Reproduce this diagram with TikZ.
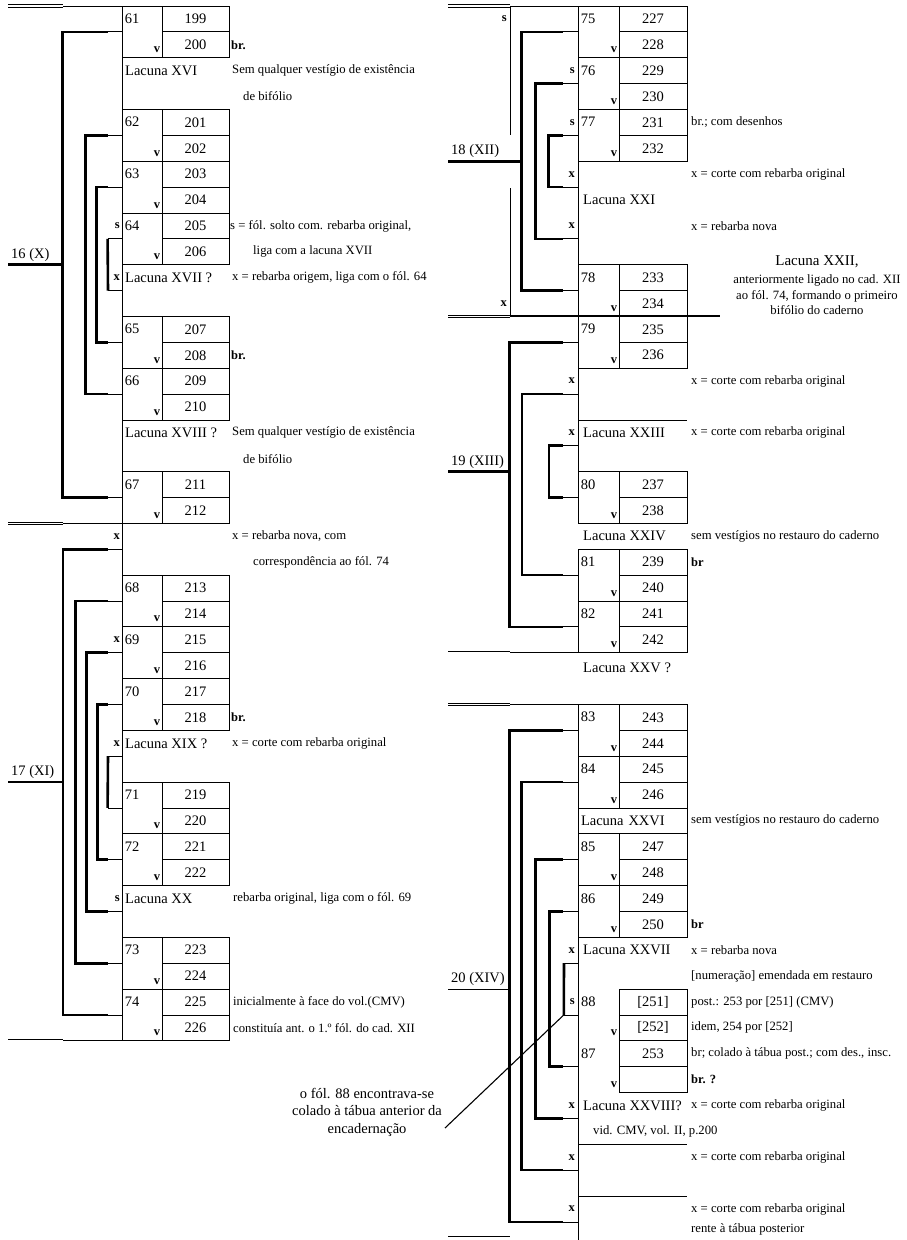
\documentclass[tikz,border=0pt]{standalone}
\usepackage{fontspec}
\setmainfont{Liberation Serif}
\begin{document}
\begin{tikzpicture}[
    x=1pt, y=-25.87pt,
    every node/.style={font=\fontsize{14.5}{17.5}\selectfont},
    cell/.style={draw, line width=0.8pt, minimum width=67pt, minimum height=25.87pt, inner sep=0pt},
    rcell/.style={cell, minimum width=68pt},
    folio/.style={anchor=north west, inner xsep=3pt, inner ysep=8pt},
    verso/.style={anchor=south east, inner xsep=2pt, inner ysep=5pt, font=\bfseries\fontsize{12.5}{14}\selectfont},
    bare/.style={minimum width=40pt, minimum height=51.74pt, inner sep=0pt,
      label={[folio]north west:#1}, label={[verso]south east:v}},
    leaf/.style={bare=#1, draw, line width=0.8pt},
    rleaf/.style={leaf=#1, minimum width=41pt},
    lacuna/.style={anchor=west, inner sep=2pt},
    sign/.style={anchor=east, inner sep=1pt, font=\bfseries\fontsize{12.5}{14}\selectfont},
    note/.style={anchor=west, inner sep=1pt, font=\fontsize{12.7}{15.5}\selectfont},
    brnote/.style={note, font=\bfseries\fontsize{12.5}{14}\selectfont},
    quirelabel/.style={anchor=south west, inner sep=3pt},
    tie/.style={line width=0.8pt},
    quire/.style={line width=2.6pt},
    dbl/.style={double, double distance=1.5pt, line width=0.8pt}
  ]
  \path[use as bounding box, fill=white] (0,-0.232) rectangle (907,47.70);

  % left column: quire 16 (X)
  \node[leaf=61] (L61) at (142,1) {};
  \node[cell] (p199) at (195.5,0.5) {199};
  \node[cell] (p200) at (195.5,1.5) {200};
  \node[brnote] (b200) at (230,1.5) {br.};
  \node[lacuna] (lac16) at (123,2.5) {Lacuna XVI};
  \node[note] (n16a) at (231,2.5) {Sem qualquer vestígio de existência};
  \node[note] (n16b) at (242,3.5) {de bifólio};
  \node[leaf=62] (L62) at (142,5) {};
  \node[cell] (p201) at (195.5,4.5) {201};
  \node[cell] (p202) at (195.5,5.5) {202};
  \node[leaf=63] (L63) at (142,7) {};
  \node[cell] (p203) at (195.5,6.5) {203};
  \node[cell] (p204) at (195.5,7.5) {204};
  \node[sign] (s64) at (121,8.5) {s};
  \node[leaf=64] (L64) at (142,9) {};
  \node[cell] (p205) at (195.5,8.5) {205};
  \node[cell] (p206) at (195.5,9.5) {206};
  \node[note] (n64a) at (229,8.5) {s = fól. solto com. rebarba original,};
  \node[note] (n64b) at (252,9.5) {liga com a lacuna XVII};
  \node[sign] (x17) at (121,10.5) {x};
  \node[lacuna] (lac17) at (123,10.5) {Lacuna XVII ?};
  \node[note] (n17) at (231,10.5) {x = rebarba origem, liga com o fól. 64};
  \coordinate (q16) at (122,11);
  \node[leaf=65] (L65) at (142,13) {};
  \node[cell] (p207) at (195.5,12.5) {207};
  \node[cell] (p208) at (195.5,13.5) {208};
  \node[brnote] (b208) at (230,13.5) {br.};
  \node[leaf=66] (L66) at (142,15) {};
  \node[cell] (p209) at (195.5,14.5) {209};
  \node[cell] (p210) at (195.5,15.5) {210};
  \node[lacuna] (lac18) at (123,16.5) {Lacuna XVIII ?};
  \node[note] (n18a) at (231,16.5) {Sem qualquer vestígio de existência};
  \node[note] (n18b) at (242,17.5) {de bifólio};
  \node[leaf=67] (L67) at (142,19) {};
  \node[cell] (p211) at (195.5,18.5) {211};
  \node[cell] (p212) at (195.5,19.5) {212};

  % left column: quire 17 (XI)
  \node[sign] (x17a) at (121,20.5) {x};
  \node[note] (n17a) at (231,20.5) {x = rebarba nova, com};
  \node[note] (n17b) at (252,21.5) {correspondência ao fól. 74};
  \coordinate (q17a) at (122,21);
  \node[leaf=68] (L68) at (142,23) {};
  \node[cell] (p213) at (195.5,22.5) {213};
  \node[cell] (p214) at (195.5,23.5) {214};
  \node[sign] (x69) at (121,24.5) {x};
  \node[leaf=69] (L69) at (142,25) {};
  \node[cell] (p215) at (195.5,24.5) {215};
  \node[cell] (p216) at (195.5,25.5) {216};
  \node[leaf=70] (L70) at (142,27) {};
  \node[cell] (p217) at (195.5,26.5) {217};
  \node[cell] (p218) at (195.5,27.5) {218};
  \node[brnote] (b218) at (230,27.5) {br.};
  \node[sign] (x19) at (121,28.5) {x};
  \node[lacuna] (lac19) at (123,28.5) {Lacuna XIX ?};
  \node[note] (n19) at (231,28.5) {x = corte com rebarba original};
  \coordinate (q17b) at (122,29);
  \node[leaf=71] (L71) at (142,31) {};
  \node[cell] (p219) at (195.5,30.5) {219};
  \node[cell] (p220) at (195.5,31.5) {220};
  \node[leaf=72] (L72) at (142,33) {};
  \node[cell] (p221) at (195.5,32.5) {221};
  \node[cell] (p222) at (195.5,33.5) {222};
  \node[sign] (s20) at (121,34.5) {s};
  \node[lacuna] (lac20) at (123,34.5) {Lacuna XX};
  \node[note] (n20) at (232,34.5) {rebarba original, liga com o fól. 69};
  \coordinate (q17c) at (122,35);
  \node[leaf=73] (L73) at (142,37) {};
  \node[cell] (p223) at (195.5,36.5) {223};
  \node[cell] (p224) at (195.5,37.5) {224};
  \node[leaf=74] (L74) at (142,39) {};
  \node[cell] (p225) at (195.5,38.5) {225};
  \node[cell] (p226) at (195.5,39.5) {226};
  \node[note] (n74a) at (232,38.5) {inicialmente à face do vol.(CMV)};
  \node[note] (n74b) at (232,39.5) {constituía ant. o 1.º fól. do cad. XII};

  % right column: quire 18 (XII)
  \node[sign] (s18) at (508,0.5) {s};
  \node[sign] (x18) at (508,11.5) {x};
  \node[rleaf=75] (L75) at (598.5,1) {};
  \node[rcell] (p227) at (653,0.5) {227};
  \node[rcell] (p228) at (653,1.5) {228};
  \node[sign] (s76) at (576,2.5) {s};
  \node[rleaf=76] (L76) at (598.5,3) {};
  \node[rcell] (p229) at (653,2.5) {229};
  \node[rcell] (p230) at (653,3.5) {230};
  \node[sign] (s77) at (576,4.5) {s};
  \node[rleaf=77] (L77) at (598.5,5) {};
  \node[rcell] (p231) at (653,4.5) {231};
  \node[rcell] (p232) at (653,5.5) {232};
  \node[note] (n77) at (690,4.5) {br.; com desenhos};
  \node[sign] (x21a) at (576,6.5) {x};
  \node[note] (n21a) at (690,6.5) {x = corte com rebarba original};
  \coordinate (q18b) at (578,7);
  \node[lacuna] (lac21) at (581,7.5) {Lacuna XXI};
  \node[sign] (x21b) at (576,8.5) {x};
  \node[note] (n21b) at (690,8.5) {x = rebarba nova};
  \coordinate (q18a) at (578,9);
  \node[rleaf=78] (L78) at (598.5,11) {};
  \node[rcell] (p233) at (653,10.5) {233};
  \node[rcell] (p234) at (653,11.5) {234};
  \node[font=\fontsize{15}{17}\selectfont] (lac22) at (817,9.9) {Lacuna XXII,};
  \node[align=center, font=\fontsize{12.7}{15.5}\selectfont] (n22) at (817,11.17)
    {anteriormente ligado no cad. XII\\ao fól. 74, formando o primeiro\\bifólio do caderno};

  % right column: quire 19 (XIII)
  \node[rleaf=79] (L79) at (598.5,13) {};
  \node[rcell] (p235) at (653,12.5) {235};
  \node[rcell] (p236) at (653,13.5) {236};
  \node[sign] (x19a) at (576,14.5) {x};
  \node[note] (n19a) at (690,14.5) {x = corte com rebarba original};
  \coordinate (q19a) at (578,15);
  \node[sign] (x23) at (576,16.5) {x};
  \node[lacuna] (lac23) at (581,16.5) {Lacuna XXIII};
  \node[note] (n23) at (690,16.5) {x = corte com rebarba original};
  \coordinate (q19b) at (578,17);
  \node[rleaf=80] (L80) at (598.5,19) {};
  \node[rcell] (p237) at (653,18.5) {237};
  \node[rcell] (p238) at (653,19.5) {238};
  \node[lacuna] (lac24) at (581,20.5) {Lacuna XXIV};
  \node[note] (n24) at (690,20.5) {sem vestígios no restauro do caderno};
  \node[rleaf=81] (L81) at (598.5,22) {};
  \node[rcell] (p239) at (653,21.5) {239};
  \node[rcell] (p240) at (653,22.5) {240};
  \node[brnote] (b239) at (690,21.5) {br};
  \node[rleaf=82] (L82) at (598.5,24) {};
  \node[rcell] (p241) at (653,23.5) {241};
  \node[rcell] (p242) at (653,24.5) {242};
  \node[lacuna] (lac25) at (581,25.6) {Lacuna XXV ?};

  % right column: quire 20 (XIV)
  \node[rleaf=83] (L83) at (598.5,28) {};
  \node[rcell] (p243) at (653,27.5) {243};
  \node[rcell] (p244) at (653,28.5) {244};
  \node[rleaf=84] (L84) at (598.5,30) {};
  \node[rcell] (p245) at (653,29.5) {245};
  \node[rcell] (p246) at (653,30.5) {246};
  \node[draw, line width=0.8pt, minimum width=109pt, minimum height=25.87pt, text width=103pt,
    inner xsep=3pt, inner ysep=0pt, align=left] (lac26) at (632.5,31.5) {Lacuna XXVI};
  \node[note] (n26) at (690,31.5) {sem vestígios no restauro do caderno};
  \node[rleaf=85] (L85) at (598.5,33) {};
  \node[rcell] (p247) at (653,32.5) {247};
  \node[rcell] (p248) at (653,33.5) {248};
  \node[rleaf=86] (L86) at (598.5,35) {};
  \node[rcell] (p249) at (653,34.5) {249};
  \node[rcell] (p250) at (653,35.5) {250};
  \node[brnote] (b250) at (690,35.5) {br};
  \node[sign] (x27) at (576,36.5) {x};
  \node[lacuna] (lac27) at (581,36.5) {Lacuna XXVII};
  \node[note] (n27a) at (690,36.5) {x = rebarba nova};
  \node[note] (n27b) at (690,37.5) {[numeração] emendada em restauro};
  \coordinate (q20a) at (578,37);
  \node[sign] (s88) at (576,38.5) {s};
  \node[bare=88, minimum width=41pt] (L88) at (598.5,39) {};
  \node[rcell] (p251) at (653,38.5) {[251]};
  \node[rcell] (p252) at (653,39.5) {[252]};
  \node[note] (n88a) at (690,38.5) {post.: 253 por [251] (CMV)};
  \node[note] (n88b) at (690,39.5) {idem, 254 por [252]};
  \node[bare=87, minimum width=41pt] (L87) at (598.5,41) {};
  \node[rcell] (p253) at (653,40.5) {253};
  \node[rcell] (p87v) at (653,41.5) {};
  \node[note] (n87a) at (690,40.5) {br; colado à tábua post.; com des., insc.};
  \node[brnote] (n87b) at (690,41.5) {br. ?};
  \node[sign] (x28) at (576,42.5) {x};
  \node[lacuna] (lac28) at (581,42.5) {Lacuna XXVIII?};
  \node[note] (n28) at (690,42.5) {x = corte com rebarba original};
  \node[note] (vid) at (592,43.5) {vid. CMV, vol. II, p.200};
  \coordinate (q20c) at (578,43);
  \node[sign] (x20d) at (576,44.5) {x};
  \node[note] (n20d) at (690,44.5) {x = corte com rebarba original};
  \coordinate (q20d) at (578,45);
  \node[sign] (x20e) at (576,46.5) {x};
  \node[note] (n20e) at (690,46.5) {x = corte com rebarba original};
  \node[note] (n20f) at (690,47.3) {rente à tábua posterior};
  \coordinate (q20e) at (578,47);
  \node[align=center] (enc) at (367,42.75) {o fól. 88 encontrava-se\\colado à tábua anterior da\\encadernação};
  \coordinate (d88) at (445,43.37);

  % quire labels
  \node[quirelabel] (k16) at (8,10) {16 (X)};
  \node[quirelabel] (k17) at (8,30) {17 (XI)};
  \node[quirelabel] (k18) at (448,6) {18 (XII)};
  \node[quirelabel] (k19) at (448,18) {19 (XIII)};
  \node[quirelabel] (k20) at (448,38) {20 (XIV)};

  % spines and quire limits
  \draw[dbl] (8,0) -- (63,0);
  \draw[dbl] (8,20) -- (63,20);
  \draw[dbl] (8,40) -- (63,40);
  \draw[tie] (63,0) -- (122,0) (63,20) -- (122,20) (63,40) -- (122,40);
  \draw[tie] (122,0) -- (122,40);
  \draw[dbl] (448,0) -- (510,0);
  \draw[dbl] (448,12) -- (510,12);
  \draw[dbl] (448,25) -- (510,25);
  \draw[dbl] (448,27) -- (510,27);
  \draw[dbl] (448,47.62) -- (510,47.62);
  \draw[tie] (510,0) -- (578,0) (510,25) -- (578,25) (510,27) -- (578,27);
  \draw[tie] (510,0) -- (510,5) (510,7.04) -- (510,12);
  \draw[line width=2pt] (510,12) -- (720,12);
  \draw[tie] (578,0) -- (578,20) (578,21) -- (578,25) (578,27) -- (578,47.7);
  \draw[tie] (578,16) -- (687,16) (578,44) -- (687,44) (578,46) -- (687,46);

  % bifolia of quire 16 (X)
  \draw[quire] (k16.south west) -- ++(55,0);
  \draw[quire] ([xshift=-14pt]L61.west) -- ++(-45,0) |- ([xshift=-14pt]L67.west);
  \draw[quire] ([xshift=-14pt]L62.west) -- ++(-22,0) |- ([xshift=-14pt]L66.west);
  \draw[quire] ([xshift=-14pt]L63.west) -- ++(-11,0) |- ([xshift=-14pt]L65.west);
  \draw[quire] ([xshift=-14pt]L64.west) -- ([xshift=-14pt]q16);
  \draw[tie] (L61.west) -- ++(-14,0) (L67.west) -- ++(-14,0) (L62.west) -- ++(-14,0)
    (L66.west) -- ++(-14,0) (L63.west) -- ++(-14,0) (L65.west) -- ++(-14,0)
    (L64.west) -- ++(-14,0) (q16) -- ++(-14,0);

  % bifolia of quire 17 (XI)
  \draw[quire] (k17.south west) -- ++(55,0);
  \draw[quire] ([xshift=-14pt]q17a) -- ++(-45,0) |- ([xshift=-14pt]L74.west);
  \draw[quire] ([xshift=-14pt]L68.west) -- ++(-32,0) |- ([xshift=-14pt]L73.west);
  \draw[quire] ([xshift=-14pt]L69.west) -- ++(-21,0) |- ([xshift=-14pt]q17c);
  \draw[quire] ([xshift=-14pt]L70.west) -- ++(-10,0) |- ([xshift=-14pt]L72.west);
  \draw[quire] ([xshift=-14pt]q17b) -- ([xshift=-14pt]L71.west);
  \draw[tie] (q17a) -- ++(-14,0) (L74.west) -- ++(-14,0) (L68.west) -- ++(-14,0)
    (L73.west) -- ++(-14,0) (L69.west) -- ++(-14,0) (q17c) -- ++(-14,0)
    (L70.west) -- ++(-14,0) (L72.west) -- ++(-14,0) (q17b) -- ++(-14,0)
    (L71.west) -- ++(-14,0);

  % bifolia of quire 18 (XII)
  \draw[quire] (k18.south west) -- ++(74,0);
  \draw[quire] ([xshift=-15pt]L75.west) -- ++(-41,0) |- ([xshift=-15pt]L78.west);
  \draw[quire] ([xshift=-15pt]L76.west) -- ++(-27,0) |- ([xshift=-15pt]q18a);
  \draw[quire] ([xshift=-15pt]L77.west) -- ++(-14,0) |- ([xshift=-15pt]q18b);
  \draw[tie] (L75.west) -- ++(-15,0) (L78.west) -- ++(-15,0) (L76.west) -- ++(-15,0)
    (q18a) -- ++(-15,0) (L77.west) -- ++(-15,0) (q18b) -- ++(-15,0);

  % bifolia of quire 19 (XIII)
  \draw[quire] (k19.south west) -- ++(62,0);
  \draw[quire] ([xshift=-15pt]L79.west) -- ++(-53,0) |- ([xshift=-15pt]L82.west);
  \draw[quire] ([xshift=-15pt]q19a) -- ++(-41,0) |- ([xshift=-15pt]L81.west);
  \draw[quire] ([xshift=-15pt]q19b) -- ++(-14,0) |- ([xshift=-15pt]L80.west);
  \draw[tie] (L79.west) -- ++(-15,0) (L82.west) -- ++(-15,0) (q19a) -- ++(-15,0)
    (L81.west) -- ++(-15,0) (q19b) -- ++(-15,0) (L80.west) -- ++(-15,0);

  % bifolia of quire 20 (XIV)
  \draw[tie] (k20.south west) -- ++(62,0);
  \draw[quire] ([xshift=-15pt]L83.west) -- ++(-53,0) |- ([xshift=-15pt]q20e);
  \draw[quire] ([xshift=-15pt]L84.west) -- ++(-41,0) |- ([xshift=-15pt]q20d);
  \draw[quire] ([xshift=-15pt]L85.west) -- ++(-27,0) |- ([xshift=-15pt]q20c);
  \draw[quire] ([xshift=-15pt]L86.west) -- ++(-13,0) |- ([xshift=-15pt]L87.west);
  \draw[quire] ([xshift=-14pt]q20a) -- ([xshift=-14pt]L88.west);
  \draw[tie] (L83.west) -- ++(-15,0) (q20e) -- ++(-15,0) (L84.west) -- ++(-15,0)
    (q20d) -- ++(-15,0) (L85.west) -- ++(-15,0) (q20c) -- ++(-15,0)
    (L86.west) -- ++(-15,0) (L87.west) -- ++(-15,0) (q20a) -- ++(-14,0)
    (L88.west) -- ++(-14,0);
  \draw[line width=1.1pt] (d88) -- ([xshift=-14pt]L88.west);
\end{tikzpicture}
\end{document}
